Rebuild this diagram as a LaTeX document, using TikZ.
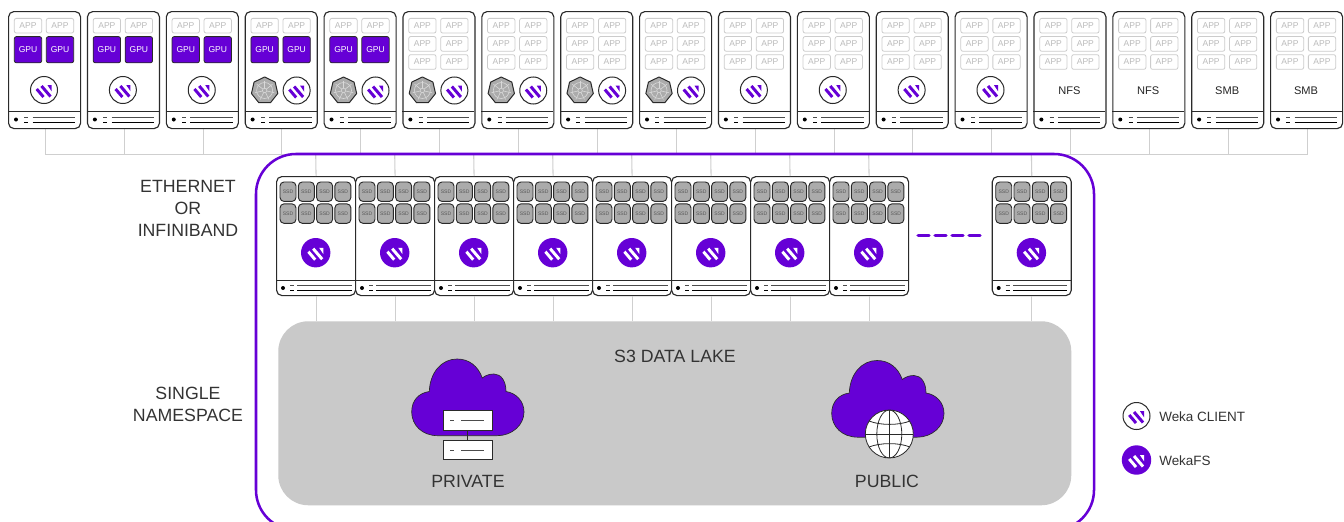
\documentclass[tikz,border=0pt]{standalone}
\usepackage{fontspec}
\setmainfont{Liberation Sans}
\definecolor{wpurple}{HTML}{6600D6}
\definecolor{wdark}{HTML}{2A2A2A}
\definecolor{wtext}{HTML}{333333}
\definecolor{wappline}{HTML}{CCCCCC}
\definecolor{wapptext}{HTML}{BBBBBB}
\definecolor{wssd}{HTML}{ABABAB}
\definecolor{wlake}{HTML}{C9C9C9}
\definecolor{wwire}{HTML}{CFCFCF}
\tikzset{
  x=0.75pt,y=-0.75pt,
  wire/.style={draw=wwire,line width=0.8pt},
  srvbox/.style={draw=wdark,fill=white,line width=0.85pt,rounded corners=4pt,anchor=north west,inner sep=0pt},
  topsrv/.style={srvbox,minimum width=54pt,minimum height=87.75pt},
  stosrv/.style={srvbox,minimum width=59.25pt,minimum height=89.25pt},
  appbox/.style={draw=wappline,fill=white,rounded corners=1.5pt,line width=0.6pt,minimum width=20.5pt,minimum height=11pt,inner sep=0pt,text=wapptext,font=\fontsize{6.4}{6}\selectfont},
  gpubox/.style={draw=wdark,fill=wpurple,rounded corners=1.5pt,line width=0.6pt,minimum width=20.5pt,minimum height=19.6pt,inner sep=0pt,text=white,font=\fontsize{6.4}{6}\selectfont},
  ssdbox/.style={draw=wdark,fill=wssd,rounded corners=3pt,line width=0.7pt,minimum width=12pt,minimum height=14.6pt,inner sep=0pt,text=black!65,font=\fontsize{3.8}{4}\selectfont},
  biglabel/.style={text=wtext,font=\fontsize{13.3}{13.3}\selectfont,inner sep=0pt},
  legendlabel/.style={text=wtext,font=\fontsize{10.1}{10}\selectfont,inner sep=0pt,anchor=west},
  proto/.style={text=black!85,font=\fontsize{8.3}{8}\selectfont,inner sep=0pt},
  rackbox/.style={draw=wdark,fill=white,line width=0.5pt,minimum width=36.75pt,minimum height=14.7pt,inner sep=0pt},
  pics/wekamark/.style={code={
    \fill[#1] (-8.4,0) -- (-6.2,-2) -- (0.6,6) -- (-1.6,8) -- cycle;
    \fill[#1] (-3.6,-3) -- (-1.4,-5) -- (7.6,5.5) -- (5.4,7.5) -- cycle;
    \fill[#1] (3.5,-4.8) -- (7.6,-4.8) -- (7.6,1.3) -- cycle;
  }},
  pics/wclient/.style={code={
    \draw[wdark,fill=white,line width=0.75pt] (0,0) circle (13.5);
    \pic {wekamark=wpurple};
  }},
  pics/wfs/.style={code={
    \fill[wpurple] (0,0) circle (14.7);
    \pic {wekamark=white};
  }},
  pics/kube/.style={code={
    \draw[wdark,fill=wssd,line width=0.75pt,line join=round] (270:13.5) -- (321.43:13.5) -- (12.86:13.5) -- (64.29:13.5) -- (115.71:13.5) -- (167.14:13.5) -- (218.57:13.5) -- cycle;
    \draw[white!85!black,line width=0.45pt] (0,0) circle (8);
    \draw[white!85!black,line width=0.45pt] (0,0) circle (2.2);
    \foreach \a in {270,321.43,12.86,64.29,115.71,167.14,218.57}
      \draw[white!85!black,line width=0.45pt] (\a:2.2) -- (\a:10);
  }},
  pics/topfoot/.style={code={
    \draw[wdark,line width=0.75pt] (0,-17) -- (72,-17);
    \fill[black] (8,-8.5) circle (2);
    \draw[black!70,line width=0.65pt] (16.3,-11) -- (20.3,-11) (24.7,-11) -- (67,-11);
    \draw[black,line width=0.65pt] (16.3,-6) -- (20.3,-6) (24.7,-6) -- (67,-6);
  }},
  pics/stofoot/.style={code={
    \draw[wdark,line width=0.75pt] (0,-15) -- (79.3,-15);
    \fill[black] (7,-7) circle (2);
    \draw[black!70,line width=0.65pt] (14,-9.3) -- (18,-9.3) (21.3,-9.3) -- (75.7,-9.3);
    \draw[black,line width=0.65pt] (14,-4.7) -- (18,-4.7) (21.3,-4.7) -- (75.7,-4.7);
  }},
  pics/cloudshape/.style={code={
    \draw[wdark,fill=wpurple,line width=0.5pt]
      (438,435.7) .. controls (422,435.7) and (411.7,425) .. (411.7,412)
      .. controls (411.7,400) and (419,393) .. (429.3,391.5)
      .. controls (430,372) and (442,359) .. (457,359)
      .. controls (469,359) and (478,366) .. (482.3,378)
      .. controls (486,375) and (490,374) .. (494,374)
      .. controls (501,374) and (506,381) .. (506,391.5)
      .. controls (516,393) and (524,401) .. (524,412)
      .. controls (524,425) and (512,435.7) .. (497,435.7) -- cycle;
  }},
}
\begin{document}
\begin{tikzpicture}
\useasboundingbox (0,0) rectangle (1344,521);
\clip (0,0) rectangle (1344,521);
\fill[white] (0,0) rectangle (1344,521);

% bus
\coordinate (busL) at (45.3,154.3);
\coordinate (busR) at (1308,154.3);
\draw[wire] (busL) -- (busR);

\node[draw=none,fill=wlake,rounded corners=22.5pt,minimum width=594.75pt,minimum height=138pt,inner sep=0pt,anchor=north west] (lake) at (278,321) {};

% top servers
\foreach \i/\kind/\svc/\txt in {1/gpu/c/,2/gpu/c/,3/gpu/c/,4/gpu/k/,5/gpu/k/,6/app/k/,7/app/k/,8/app/k/,9/app/k/,10/app/c/,11/app/c/,12/app/c/,13/app/c/,14/app/t/NFS,15/app/t/NFS,16/app/t/SMB,17/app/t/SMB}{
  \pgfmathsetmacro\xx{8+78.875*(\i-1)}
  \coordinate (d\i) at (\xx+37.3,128);
  \draw[wire] (d\i) -- (d\i |- busL);
  \node[topsrv] (t\i) at (\xx,11) {};
  \begin{scope}[shift={(\xx,0)}]
    \node[appbox] (t\i a1) at (20,25.7) {APP};
    \node[appbox] (t\i a2) at (52,25.7) {APP};
    \ifnum\pdfstrcmp{\kind}{gpu}=0
      \node[gpubox] (t\i g1) at (20,49.7) {GPU};
      \node[gpubox] (t\i g2) at (52,49.7) {GPU};
    \else
      \node[appbox] (t\i a3) at (20,43.9) {APP};
      \node[appbox] (t\i a4) at (52,43.9) {APP};
      \node[appbox] (t\i a5) at (20,62) {APP};
      \node[appbox] (t\i a6) at (52,62) {APP};
    \fi
    \ifnum\pdfstrcmp{\svc}{c}=0
      \pic at (36,90) {wclient};
    \fi
    \ifnum\pdfstrcmp{\svc}{k}=0
      \pic at (20,90.5) {kube};
      \pic at (52,90.5) {wclient};
    \fi
    \ifnum\pdfstrcmp{\svc}{t}=0
      \node[proto] (t\i p) at (36,91) {\txt};
    \fi
    \pic at (0,128) {topfoot};
  \end{scope}
}

% storage servers
\foreach \i/\xx in {1/276,2/355,3/434,4/513,5/592,6/671,7/750,8/829,9/991.7}{
  \coordinate (up\i) at (\xx+39.7,154.3);
  \node[stosrv] (s\i) at (\xx,176) {};
  \draw[wire] (s\i.north) -- (up\i);
  \draw[wire] (s\i.south) -- (s\i.south |- lake.north);
  \begin{scope}[shift={(\xx,0)}]
    \foreach \c in {0,1,2,3}{
      \node[ssdbox] (s\i r\c) at (12+18.3*\c,191.7) {SSD};
      \node[ssdbox] (s\i q\c) at (12+18.3*\c,213.6) {SSD};
    }
    \pic at (39.7,252.7) {wfs};
    \pic at (0,295) {stofoot};
  \end{scope}
}

% boundary
\draw[wpurple,line width=1.9pt,rounded corners=30pt] (256,154) rectangle (1094,530);

% dashes
\coordinate (dashL) at (918,235.3);
\coordinate (dashR) at (980.5,235.3);
\draw[wpurple,line width=2.3pt,line cap=round,dash pattern=on 8.3pt off 4.45pt] (dashL) -- (dashR);

% side labels
\node[biglabel] (l1) at (188,186.5) {ETHERNET};
\node[biglabel] (l2) at (188,208.5) {OR};
\node[biglabel] (l3) at (188,230.5) {INFINIBAND};
\node[biglabel] (l4) at (188,393.5) {SINGLE};
\node[biglabel] (l5) at (188,415.5) {NAMESPACE};
\node[biglabel] (lakelabel) at (675,356.5) {S3 DATA LAKE};

% private cloud
\pic at (0,0) {cloudshape};
\node[rackbox] (p1) at (467.8,420.5) {};
\node[rackbox] (p2) at (467.8,450) {};
\draw[wdark,line width=0.5pt] (p1) -- (p2);
\draw[black!70,line width=0.6pt] (450,420.7) -- (454,420.7) (461,420.7) -- (484,420.7);
\draw[black!70,line width=0.6pt] (450,450.3) -- (454,450.3) (461,450.3) -- (484,450.3);
\node[biglabel] (privatelabel) at (468,481.5) {PRIVATE};

% public cloud
\pic at (420,1.5) {cloudshape};
\draw[wdark,fill=white,line width=0.6pt] (889.3,434) circle (24);
\begin{scope}
  \clip (889.3,434) circle (24);
  \draw[wdark,line width=0.6pt] (889.3,434) ellipse (12.5 and 24);
  \draw[wdark,line width=0.6pt] (889.3,410) -- (889.3,458);
  \draw[wdark,line width=0.6pt] (865.3,434) -- (913.3,434);
  \draw[wdark,line width=0.6pt] (869,421) .. controls (880,425.5) and (899,425.5) .. (910,421);
  \draw[wdark,line width=0.6pt] (869,447) .. controls (880,442.5) and (899,442.5) .. (910,447);
\end{scope}
\node[biglabel] (publiclabel) at (887,481.5) {PUBLIC};

% legend
\pic at (1136.5,416) {wclient};
\node[legendlabel] (leg1) at (1159,416.5) {Weka CLIENT};
\pic at (1136.5,460) {wfs};
\node[legendlabel] (leg2) at (1159,460.5) {WekaFS};
\end{tikzpicture}
\end{document}
